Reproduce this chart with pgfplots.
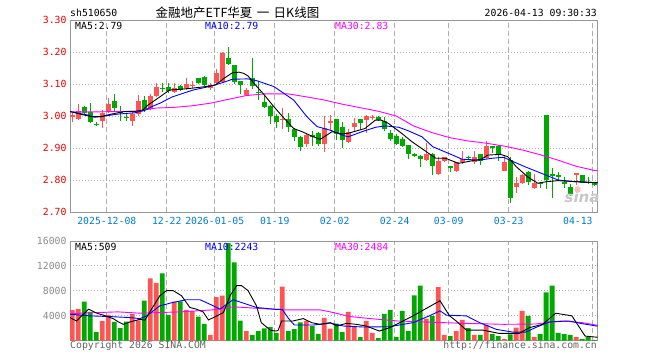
\documentclass[border=0pt]{standalone}
\usepackage{pgfplots}
\pgfplotsset{compat=1.18}
\usepackage{pgfplotstable}
\usepackage{fontspec}
\setmonofont{DejaVu Sans Mono}
\newfontfamily\cjk{Noto Sans CJK SC}
\newfontfamily\wmfont{DejaVu Sans}
\definecolor{upred}{RGB}{255,84,84}
\definecolor{downgreen}{RGB}{0,168,0}
\definecolor{tickred}{RGB}{230,0,0}
\definecolor{dateblue}{RGB}{0,125,215}
\definecolor{bordergray}{RGB}{150,150,150}
\definecolor{gridgray}{RGB}{175,175,175}
\definecolor{voltick}{RGB}{140,140,140}
\definecolor{maten}{RGB}{0,0,255}
\definecolor{mathirty}{RGB}{255,0,255}
\definecolor{copygray}{RGB}{100,100,100}

\pgfplotstableread{
k O H L C V u
0 2.996 3.010 2.982 3.002 4932 1
1 2.992 3.038 2.988 3.016 5095 1
2 3.027 3.030 3.006 3.010 6233 0
3 3.013 3.042 2.977 2.982 4607 0
4 2.976 2.980 2.968 2.973 1355 0
5 2.985 3.019 2.961 3.010 3144 1
6 3.014 3.055 3.010 3.038 4119 1
7 3.047 3.069 3.014 3.025 2981 0
8 3.015 3.031 2.985 3.012 2005 0
9 2.998 3.007 2.985 2.995 3035 0
10 2.985 3.014 2.970 3.006 4282 1
11 3.006 3.065 3.000 3.048 3252 1
12 3.050 3.062 3.014 3.018 6396 0
13 3.022 3.068 3.018 3.063 9973 1
14 3.062 3.102 3.058 3.090 9214 1
15 3.089 3.102 3.076 3.086 10786 0
16 3.092 3.102 3.071 3.079 4119 0
17 3.076 3.104 3.071 3.087 6233 1
18 3.094 3.097 3.078 3.082 6287 0
19 3.086 3.118 3.082 3.099 4932 1
20 3.095 3.110 3.088 3.098 4715 1
21 3.118 3.120 3.100 3.102 3848 0
22 3.123 3.124 3.095 3.097 2656 0
23 3.088 3.102 3.081 3.096 921 1
24 3.102 3.146 3.098 3.135 6992 1
25 3.107 3.200 3.103 3.198 7209 1
26 3.180 3.217 3.158 3.162 15664 0
27 3.159 3.160 3.100 3.107 12574 0
28 3.109 3.110 3.070 3.097 3198 0
29 3.066 3.088 3.062 3.081 1518 1
30 3.118 3.180 3.085 3.094 921 0
31 3.076 3.107 3.050 3.073 1518 0
32 3.045 3.063 3.024 3.029 1951 0
33 3.031 3.034 2.975 3.000 2168 0
34 3.000 3.005 2.964 2.982 1247 0
35 2.988 3.024 2.958 2.991 8672 1
36 2.991 3.010 2.950 2.966 1518 0
37 2.958 2.962 2.922 2.935 1843 0
38 2.935 2.937 2.891 2.903 2927 0
39 2.914 2.946 2.902 2.940 3144 1
40 2.941 2.952 2.906 2.936 2331 0
41 2.946 2.950 2.906 2.911 1084 0
42 2.911 3.000 2.888 2.961 3631 1
43 2.980 3.003 2.954 2.983 1897 1
44 2.990 2.992 2.925 2.944 2710 0
45 2.967 2.982 2.901 2.925 1355 0
46 2.920 2.958 2.915 2.951 4607 1
47 2.965 2.993 2.951 2.977 2168 1
48 2.990 2.992 2.956 2.977 542 0
49 2.987 3.003 2.948 3.000 3144 1
50 2.994 3.003 2.987 2.997 1247 1
51 2.996 3.000 2.983 2.986 379 0
52 2.984 2.996 2.954 2.958 4282 0
53 2.946 2.956 2.923 2.927 4932 0
54 2.937 2.944 2.909 2.912 542 0
55 2.927 2.933 2.902 2.906 4770 0
56 2.909 2.910 2.867 2.881 1518 0
57 2.880 2.883 2.873 2.877 7263 0
58 2.875 2.877 2.840 2.865 8835 0
59 2.862 2.915 2.858 2.880 3523 1
60 2.881 2.884 2.816 2.845 3957 0
61 2.818 2.872 2.815 2.859 8564 1
62 2.859 2.873 2.855 2.872 921 1
63 2.843 2.845 2.826 2.840 705 0
64 2.828 2.857 2.825 2.855 1518 1
65 2.855 2.892 2.850 2.866 3306 1
66 2.872 2.874 2.862 2.869 2005 0
67 2.856 2.892 2.850 2.871 921 1
68 2.880 2.882 2.847 2.860 921 0
69 2.870 2.922 2.866 2.905 2493 1
70 2.905 2.906 2.885 2.902 1084 0
71 2.906 2.908 2.860 2.878 705 0
72 2.829 2.876 2.827 2.855 271 1
73 2.864 2.872 2.727 2.745 976 0
74 2.779 2.808 2.760 2.792 2060 1
75 2.792 2.819 2.788 2.816 4770 1
76 2.825 2.827 2.784 2.795 3957 0
77 2.774 2.818 2.771 2.790 596 1
78 2.792 2.794 2.774 2.789 1084 0
79 3.003 3.003 2.771 2.800 7751 0
80 2.818 2.837 2.743 2.815 8835 0
81 2.816 2.826 2.798 2.808 1247 0
82 2.795 2.808 2.774 2.788 1030 0
83 2.777 2.787 2.750 2.756 921 0
84 2.818 2.822 2.785 2.821 542 1
85 2.816 2.817 2.790 2.792 271 0
86 2.794 2.810 2.789 2.791 596 0
87 2.792 2.794 2.782 2.784 108 0
}\kdata

\pgfplotsset{
  chartbase/.style={
    scale only axis, width=527.7pt,
    xmin=-0.39, xmax=87.6,
    axis line style={draw=bordergray, line width=1pt},
    tick style={draw=none}, major tick length=0pt,
    xtick={5.75,15.75,23.75,33.75,43.75,53.75,62.75,72.75,86.75},
    xmajorgrids, ymajorgrids,
    major x grid style={draw=gridgray, line width=0.8pt, dash pattern=on 5pt off 3pt},
    major y grid style={draw=gridgray, line width=0.8pt, dash pattern=on 1pt off 2pt},
    ticklabel style={font=\ttfamily\fontsize{9.8pt}{10pt}\selectfont},
    scaled y ticks=false,
  },
  wick/.style={draw=none, mark=none, forget plot,
    /pgfplots/error bars/y dir=both, /pgfplots/error bars/y explicit,
    /pgfplots/error bars/error mark=none,
    /pgfplots/error bars/error bar style={draw=#1, line width=1pt}},
  body/.style={draw=none, mark=none, forget plot,
    /pgfplots/error bars/y dir=both, /pgfplots/error bars/y explicit,
    /pgfplots/error bars/error mark=none,
    /pgfplots/error bars/error bar style={draw=#1, line width=4.8pt}},
}

\begin{document}
\begin{tikzpicture}[x=1pt,y=1pt]
\useasboundingbox (0,0) rectangle (660,360);

% ---------- price panel ----------
\begin{axis}[chartbase,
  at={(70pt,148pt)}, anchor=south west, height=192pt,
  ymin=2.7, ymax=3.3,
  xticklabels={2025-12-08,12-22,2026-01-05,01-19,02-02,02-24,03-09,03-23,\llap{04-13}},
  ytick={2.7,2.8,2.9,3.0,3.1,3.2,3.3},
  yticklabels={2.70,2.80,2.90,3.00,3.10,3.20,3.30},
  xticklabel style={text=dateblue, yshift=-2pt},
  yticklabel style={text=tickred},
]
\addplot[restrict expr to domain={\thisrow{u}}{1:1}, wick=upred]
  table[x=k, y expr={(\thisrow{H}+\thisrow{L})/2}, y error expr={(\thisrow{H}-\thisrow{L})/2}] {\kdata};
\addplot[restrict expr to domain={\thisrow{u}}{0:0}, wick=downgreen]
  table[x=k, y expr={(\thisrow{H}+\thisrow{L})/2}, y error expr={(\thisrow{H}-\thisrow{L})/2}] {\kdata};
\addplot[restrict expr to domain={\thisrow{u}}{1:1}, body=upred]
  table[x=k, y expr={(\thisrow{O}+\thisrow{C})/2}, y error expr={abs(\thisrow{O}-\thisrow{C})/2}] {\kdata};
\addplot[restrict expr to domain={\thisrow{u}}{0:0}, body=downgreen]
  table[x=k, y expr={(\thisrow{O}+\thisrow{C})/2}, y error expr={abs(\thisrow{O}-\thisrow{C})/2}] {\kdata};

% MA30
\addplot[mathirty, line width=0.9pt, mark=none] coordinates {
(-0.4,3.013)(4,3.013)(8,3.014)(11,3.016)(14,3.025)(17,3.027)(20,3.032)(23,3.040)(26,3.052)(29,3.064)(32,3.069)(36,3.069)(39,3.060)(42,3.050)(45,3.037)(48,3.026)(51,3.015)(54,3.000)(57,2.968)(60,2.948)(63,2.932)(66,2.922)(69,2.915)(72,2.906)(75,2.894)(78,2.879)(81,2.862)(84,2.843)(87,2.830)(87.6,2.829)};
% MA10
\addplot[maten, line width=0.9pt, mark=none] coordinates {
(-0.4,3.014)(2.6,3.003)(3.7,2.996)(5.4,3.000)(7.6,3.006)(10.4,3.010)(12,3.017)(13.2,3.029)(14.6,3.040)(16.7,3.060)(20.1,3.081)(22.8,3.092)(25,3.104)(26.7,3.115)(29.3,3.116)(30.8,3.110)(33.6,3.092)(36.9,3.050)(39.1,2.998)(40.8,2.967)(43.3,2.954)(45,2.940)(46,2.935)(48.3,2.951)(50.6,2.965)(52.2,2.969)(54.4,2.965)(56,2.954)(58.3,2.935)(60.1,2.904)(63.4,2.878)(65,2.865)(67.8,2.862)(70,2.868)(71.9,2.871)(72.6,2.865)(75.4,2.842)(78.2,2.821)(81,2.800)(83.7,2.795)(87,2.792)(87.6,2.792)};
% MA5
\addplot[black, line width=0.9pt, mark=none] coordinates {
(-0.4,3.014)(0.9,3.008)(2,3.003)(3.2,2.998)(4.8,2.998)(6.5,3.006)(8.7,3.014)(10.4,3.014)(11.8,3.019)(12.6,3.034)(14,3.052)(14.6,3.060)(16.2,3.081)(19.5,3.086)(22.3,3.092)(23.9,3.097)(25.3,3.118)(26.7,3.135)(27.8,3.137)(28.6,3.133)(29.3,3.125)(30.3,3.102)(32,3.066)(33.6,3.029)(35.3,2.993)(36.9,2.961)(38.3,2.951)(40.2,2.935)(41.3,2.927)(42.4,2.940)(43.3,2.951)(45,2.944)(46,2.946)(48.8,2.961)(50.5,2.987)(51.5,2.987)(52.7,2.977)(54.9,2.946)(56.6,2.920)(58.6,2.894)(60.6,2.868)(62.2,2.868)(64.4,2.852)(66.6,2.860)(68.2,2.865)(69.3,2.878)(71.4,2.880)(72.6,2.873)(74,2.842)(75.9,2.810)(77.6,2.790)(79.2,2.795)(81,2.798)(83.7,2.795)(87,2.792)(87.6,2.792)};
\end{axis}

% ---------- volume panel ----------
\begin{axis}[chartbase,
  at={(70pt,19.5pt)}, anchor=south west, height=99.5pt,
  ymin=0, ymax=16000,
  xticklabels={,,,,,,,,},
  ytick={4000,8000,12000,16000},
  yticklabels={4000,8000,12000,16000},
  yticklabel style={text=voltick},
]
\addplot[ybar, bar width=4.8pt, bar shift=0pt, fill=upred, draw=none, forget plot,
  restrict expr to domain={\thisrow{u}}{1:1}] table[x=k, y=V] {\kdata};
\addplot[ybar, bar width=4.8pt, bar shift=0pt, fill=downgreen, draw=none, forget plot,
  restrict expr to domain={\thisrow{u}}{0:0}] table[x=k, y=V] {\kdata};
% MA30
\addplot[mathirty, line width=0.9pt, mark=none] coordinates {
(-0.4,4336)(7.6,4607)(11.3,4390)(18,4607)(23.5,4932)(26.8,5420)(31.3,5150)(35.7,4932)(41.3,4932)(43,4607)(46.3,3848)(49.7,3523)(54.2,3144)(58.6,2981)(65.2,2764)(71.9,2602)(77.2,2650)(81.6,3144)(85,2873)(87.6,2439)};
% MA10
\addplot[maten, line width=0.9pt, mark=none] coordinates {
(-0.4,4228)(3,3957)(6.3,3848)(9.6,3686)(11.3,3523)(12.4,3957)(14.6,5583)(16.8,6125)(19,6558)(21.3,6558)(23.5,5583)(24.6,5040)(26.8,6558)(29,5854)(30.7,5312)(34,5000)(35,5000)(36,3600)(37,2500)(40.2,2493)(43,2800)(45.2,2331)(48.5,2168)(52.9,2222)(56.8,2873)(59.5,3957)(61.3,4770)(62.4,4065)(65.7,3957)(67.9,2873)(70.7,1789)(73.4,1355)(75.6,1355)(77.2,2060)(79.5,2981)(82.8,3144)(85,2710)(87.6,2300)};
% MA5
\addplot[black, line width=0.9pt, mark=none] coordinates {
(-0.4,3686)(0.7,3144)(2.7,5040)(4.1,4390)(5.2,4065)(6.8,3523)(7.7,2981)(8.5,2602)(9.6,2981)(11.3,3415)(12.1,3250)(13.2,5040)(14.6,7209)(15.7,8022)(16.8,8022)(18.2,7209)(19.6,5312)(20.7,5040)(21.8,4600)(22.7,3306)(24.1,3957)(25.2,4499)(26.3,7209)(27.4,8835)(28.2,8835)(29.3,8022)(30.7,5583)(31.5,2873)(33,1680)(33.8,1518)(34.3,1600)(34.9,3144)(36.8,3144)(38.5,3523)(39.9,2873)(41.3,2602)(43,2873)(44.1,2331)(45.7,2764)(47.3,2600)(49,2331)(51.2,1518)(52.9,2060)(54.6,2873)(56.8,3957)(59,5150)(61.3,6396)(62.9,3957)(64,3144)(65.7,1680)(68.4,1680)(71.2,1138)(74.5,1138)(76.2,2060)(78.4,2602)(80.6,4390)(83.3,3957)(84.4,2331)(85.5,705)(87.6,520)};
\end{axis}

% ---------- texts ----------
\tikzset{txt/.style={inner sep=0pt, font=\ttfamily\fontsize{9.8pt}{10pt}\selectfont}}
\node[txt, anchor=west] at (70,347) {sh510650};
\node[inner sep=0pt, font=\cjk\fontsize{12.5pt}{13pt}\selectfont] at (237.5,347.5) {金融地产ETF华夏\hspace{0.35em}一\hspace{0.35em}日K线图};
\node[txt, anchor=east] at (597,347.5) {2026-04-13 09:30:33};
\node[txt, anchor=west] at (75,334) {MA5:2.79};
\node[txt, anchor=west, text=maten] at (205,334) {MA10:2.79};
\node[txt, anchor=west, text=mathirty] at (335,334) {MA30:2.83};
\node[txt, anchor=west] at (75,113.3) {MA5:509};
\node[txt, anchor=west, text=maten] at (205,113.3) {MA10:2243};
\node[txt, anchor=west, text=mathirty] at (335,113.3) {MA30:2484};
\node[txt, anchor=west, text=copygray] at (70,14) {Copyright 2026 SINA.COM};
\node[txt, anchor=east, text=copygray] at (597,14) {http://finance.sina.com.cn};
\node[inner sep=0pt, font=\wmfont\bfseries\itshape\fontsize{15pt}{15pt}\selectfont, text=black!22] at (582,163) {sina};
\fill[red!25] (577.5,170.5) circle (3.2);
\end{tikzpicture}
\end{document}
